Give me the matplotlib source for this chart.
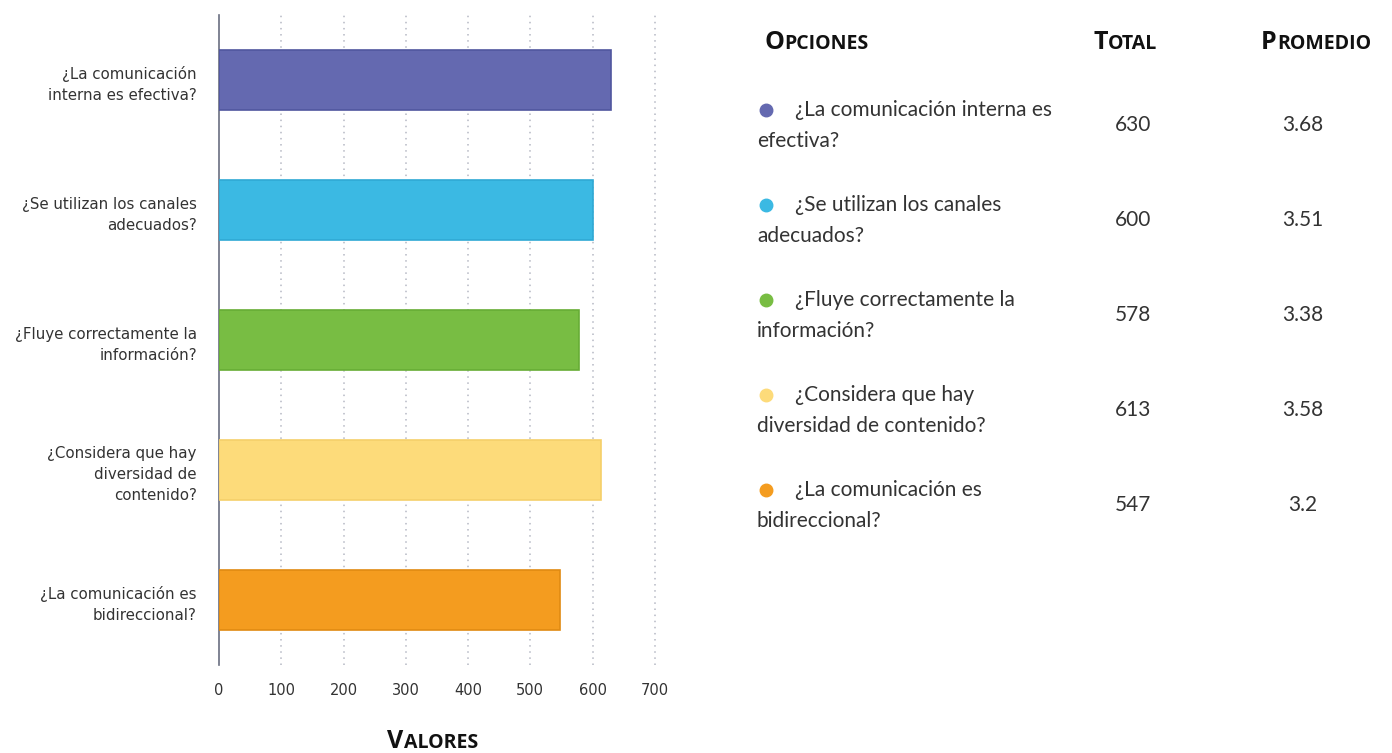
import numpy as np
import matplotlib
matplotlib.use("Agg")
import matplotlib.pyplot as plt

# Datos de la encuesta
preguntas_eje = [
    "¿La comunicación\ninterna es efectiva?",
    "¿Se utilizan los canales\nadecuados?",
    "¿Fluye correctamente la\ninformación?",
    "¿Considera que hay\ndiversidad de\ncontenido?",
    "¿La comunicación es\nbidireccional?",
]
preguntas_tabla = [
    "¿La comunicación interna es\nefectiva?",
    "¿Se utilizan los canales\nadecuados?",
    "¿Fluye correctamente la\ninformación?",
    "¿Considera que hay\ndiversidad de contenido?",
    "¿La comunicación es\nbidireccional?",
]
totales = [630, 600, 578, 613, 547]
promedios = ["3.68", "3.51", "3.38", "3.58", "3.2"]
colores = ["#6469b0", "#3bb9e3", "#78bd43", "#fddb7a", "#f49c1f"]
bordes = ["#50569e", "#2fa9d4", "#67ad35", "#f5cf6a", "#e08a12"]
ticks_x = [0, 100, 200, 300, 400, 500, 600, 700]

W, H = 1392, 753
fig = plt.figure(figsize=(W / 100, H / 100), dpi=100)
renderer = fig.canvas.get_renderer()

# --- Gráfico de barras ---
x0, x1 = 219, 661
y_top, y_bot = 15, 665
ax = fig.add_axes([x0 / W, 1 - y_bot / H, (x1 - x0) / W, (y_bot - y_top) / H])
y = np.arange(len(totales))
ax.barh(y, totales, height=0.46, color=colores, edgecolor=bordes, linewidth=1.2, zorder=3)
ax.set_xlim(0, 710)
ax.set_ylim(len(totales) - 0.5, -0.5)
ax.set_xticks(ticks_x)
ax.set_xticklabels([str(t) for t in ticks_x], fontfamily="DejaVu Sans", fontsize=10.5, color="#333333")
ax.set_yticks(y)
ax.set_yticklabels(preguntas_eje, fontfamily="DejaVu Sans", fontsize=10.8, color="#333333",
                   linespacing=1.5, ha="right")
ax.tick_params(axis="both", length=0)
ax.tick_params(axis="x", pad=13)
ax.tick_params(axis="y", pad=16)
for s in ["top", "right", "bottom"]:
    ax.spines[s].set_visible(False)
ax.spines["left"].set_color("#6a6e80")
ax.spines["left"].set_linewidth(1.2)
for t in ticks_x[1:]:
    ax.axvline(t, color="#b5b8c4", linestyle=(0, (1, 3)), linewidth=1.1, zorder=1)


def versalitas(x, y_px, palabra):
    # primera letra grande, el resto en mayúscula reducida sobre la misma línea base
    a = fig.text(x / W, 1 - y_px / H, palabra[0], fontfamily="Open Sans", fontweight="bold",
                 fontsize=18, color="#111111", ha="left", va="baseline")
    bb = a.get_window_extent(renderer)
    fig.text((bb.x1 + 0.5) / W, 1 - y_px / H, palabra[1:], fontfamily="Open Sans",
             fontweight="bold", fontsize=14, color="#111111", ha="left", va="baseline")


versalitas(387, 748, "VALORES")

# --- Tabla de opciones ---
versalitas(764, 49, "OPCIONES")
versalitas(1093, 49, "TOTAL")
versalitas(1261, 49, "PROMEDIO")

fila0, paso = 125, 95
for i, (txt, tot, prom, c) in enumerate(zip(preguntas_tabla, totales, promedios, colores)):
    yc = fila0 + i * paso
    l1, l2 = txt.split("\n")
    fig.text(795 / W, 1 - (yc - 15) / H, l1, fontfamily="Lato", fontsize=15,
             color="#333333", ha="left", va="center")
    fig.text(757 / W, 1 - (yc + 16) / H, l2, fontfamily="Lato", fontsize=15,
             color="#333333", ha="left", va="center")
    fig.add_artist(plt.Line2D([766 / W], [1 - (yc - 15) / H], marker="o", markersize=9,
                              color=c, markeredgecolor=c, transform=fig.transFigure))
    fig.text(1133 / W, 1 - yc / H, str(tot), fontfamily="Lato", fontsize=15,
             color="#333333", ha="center", va="center")
    fig.text(1303 / W, 1 - yc / H, prom, fontfamily="Lato", fontsize=15,
             color="#333333", ha="center", va="center")

fig.savefig("out.png", dpi=100, facecolor="white")
